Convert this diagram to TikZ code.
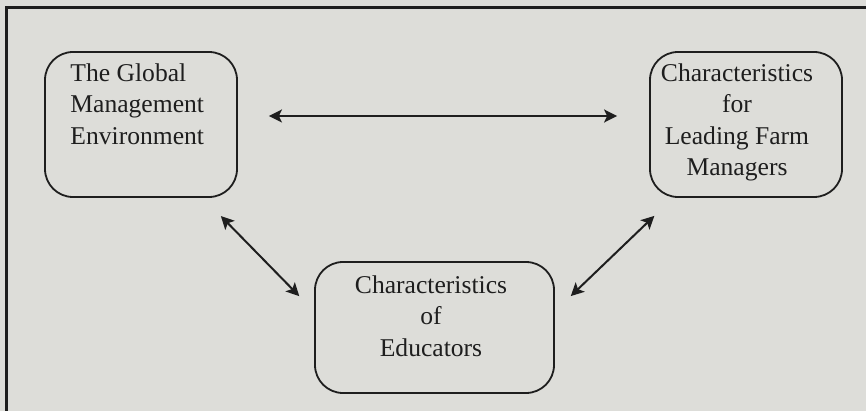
\documentclass[tikz,border=0pt]{standalone}
\usepackage{fontspec}
\setmainfont{Liberation Serif}
\usetikzlibrary{arrows.meta}
\definecolor{scan}{RGB}{221,221,217}
\definecolor{ink}{RGB}{30,30,30}
\tikzset{
  >={Stealth[length=6.5pt,width=6.5pt,inset=1.5pt]},
  box/.style ={draw=ink, line width=0.9pt, rounded corners=14pt,
               inner sep=0pt, minimum width=96pt, minimum height=72.5pt},
  lbl/.style ={text=ink, inner sep=0pt,
               font=\fontsize{12.8}{15.8}\selectfont},
  link/.style ={<->, draw=ink, line width=1pt},
}
\begin{document}
\begin{tikzpicture}[x=0.5pt,y=-0.5pt]
\fill[scan] (0,0) rectangle (866,411);
\useasboundingbox (0,0) rectangle (866,411);
\draw[ink, line width=1.5pt] (866,8) -- (6,8) -- (6,411);
% boxes
\node[box] (glob) at (141,124.5) {};
\node[lbl, align=left, anchor=north west] (globtxt) at (70,63)
  {The Global\\Management\\Environment};
\node[box] (chr) at (746,124.5) {};
\node[lbl, align=center, anchor=north] (chrtxt) at (737,63)
  {Characteristics\\for\\Leading Farm\\Managers};
\node[box, minimum width=119.5pt, minimum height=65.5pt] (edu) at (434.5,327.5) {};
\node[lbl, align=center, anchor=north] (edutxt) at (431,275)
  {Characteristics\\of\\Educators};
% links
\draw[link, shorten <=15.5pt, shorten >=16pt]
  ([yshift=4.25pt]glob.east) -- ([yshift=4.25pt]chr.west);
\draw[link, shorten <=12.7pt, shorten >=10.6pt]
  ([xshift=-17.4pt]glob.south east) -- ([yshift=8.1pt]edu.west);
\draw[link, shorten <=11pt, shorten >=13pt]
  ([yshift=8.1pt]edu.east) -- ([xshift=12pt]chr.south west);
\end{tikzpicture}
\end{document}
